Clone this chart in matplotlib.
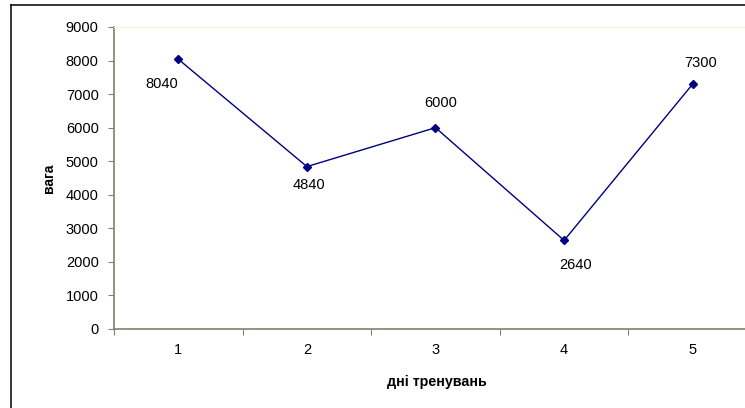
import matplotlib.pyplot as plt
from matplotlib.lines import Line2D

# training days and weight
days = [1, 2, 3, 4, 5]
weight = [8040, 4840, 6000, 2640, 7300]
# label offsets in pixels (dx, dy)
label_offsets = [(-17, -25), (2, -18), (5, 25), (11, -25), (8, 21)]

plt.rcParams['font.family'] = ['Liberation Sans', 'DejaVu Sans']

W, H = 745, 408
fig = plt.figure(figsize=(W / 100, H / 100), dpi=100)

# plot area in pixel terms
left, right, top, bottom = 114, 757, 27, 329
ax = fig.add_axes([left / W, 1 - bottom / H, (right - left) / W, (bottom - top) / H])

ax.plot(days, weight, color='#000080', lw=1, marker='D', ms=4.5,
        markerfacecolor='#000080', markeredgecolor='#000080')

for d, w, (dx, dy) in zip(days, weight, label_offsets):
    ax.annotate(str(w), (d, w), xytext=(dx, dy), textcoords='offset pixels',
                ha='center', va='center', fontsize=10.5, color='black')

ax.set_xlim(0.5, 5.5)
ax.set_ylim(0, 9000)
ax.set_yticks(range(0, 9001, 1000))
ax.set_xticks([0.5, 1.5, 2.5, 3.5, 4.5, 5.5])
ax.set_xticklabels([])
ax.set_xticks(days, minor=True)
ax.set_xticklabels([str(d) for d in days], minor=True)
ax.tick_params(axis='x', which='minor', length=0, pad=10, labelsize=10.5)
ax.tick_params(axis='x', which='major', length=4, direction='out', color='#808070')
ax.tick_params(axis='y', length=4, direction='out', color='#808070', pad=7, labelsize=10.5)

for s in ['left', 'bottom']:
    ax.spines[s].set_color('#808070')
    ax.spines[s].set_linewidth(1.2)
ax.spines['top'].set_color('#f8f8d0')
ax.spines['right'].set_visible(False)

ax.set_xlabel('дні тренувань', fontsize=10.3, fontweight='bold', va='center')
ax.xaxis.set_label_coords((437 - left) / (right - left), -(382 - bottom) / (bottom - top))
ax.set_ylabel('вага', fontsize=10, fontweight='bold', va='center')
ax.yaxis.set_label_coords((49 - left) / (right - left), (bottom - 178) / (bottom - top))

# outer chart frame (only top and left edges visible)
fig.add_artist(Line2D([11 / W, 11 / W], [0, 1 - 5 / H], color='black', lw=1.1))
fig.add_artist(Line2D([11 / W, 1], [1 - 5 / H, 1 - 5 / H], color='black', lw=1.1))

fig.savefig('out.png', dpi=100)
